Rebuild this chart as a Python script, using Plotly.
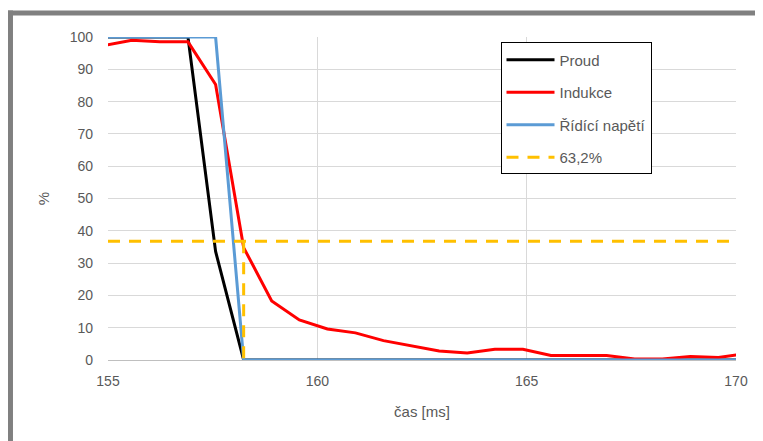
import plotly.graph_objects as go

# sample times [ms]
t = [154.91, 155.57, 156.24, 156.91, 157.57, 158.24, 158.91, 159.57, 160.24,
     160.91, 161.58, 162.24, 162.91, 163.58, 164.24, 164.91, 165.58, 166.24,
     166.91, 167.58, 168.24, 168.91, 169.58, 170.24]

proud = [100, 100, 100, 100, 33.6, 0, 0, 0, 0, 0, 0, 0, 0, 0, 0, 0, 0, 0,
         0, 0, 0, 0, 0, 0]
indukce = [97.4, 99.0, 98.5, 98.5, 85.3, 34.8, 18.3, 12.4, 9.6, 8.4, 6.0, 4.3,
           2.8, 2.2, 3.3, 3.3, 1.4, 1.4, 1.4, 0.3, 0.3, 1.1, 0.8, 2.0]
ridici = [100, 100, 100, 100, 100, 0, 0, 0, 0, 0, 0, 0, 0, 0, 0, 0, 0, 0,
          0, 0, 0, 0, 0, 0]

# 63,2 % level line (drawn at 100-63.2)
lvl_x = [155, 170, None, 158.24, 158.24]
lvl_y = [36.8, 36.8, None, 36.8, 0]

names = ["Proud", "Indukce", "Řídící napětí", "63,2%"]
colors = ["#000000", "#FF0000", "#5B9BD5", "#FFC000"]

fig = go.Figure()
fig.add_trace(go.Scatter(x=t, y=proud, mode="lines", name=names[0],
                         line=dict(color=colors[0], width=3), legendgroup="a"))
fig.add_trace(go.Scatter(x=t, y=indukce, mode="lines", name=names[1],
                         line=dict(color=colors[1], width=3), legendgroup="b"))
fig.add_trace(go.Scatter(x=t, y=ridici, mode="lines", name=names[2],
                         line=dict(color=colors[2], width=3), legendgroup="c"))
fig.add_trace(go.Scatter(x=lvl_x, y=lvl_y, mode="lines", name=names[3],
                         line=dict(color=colors[3], width=3, dash="12px,9px"),
                         legendgroup="d"))

fig.update_layout(
    width=755, height=433, autosize=False,
    margin=dict(l=100, r=27, t=29, b=81),
    paper_bgcolor="white", plot_bgcolor="white",
    font=dict(family="Liberation Sans", size=14, color="#595959"),
    showlegend=True,
    legend=dict(x=0.625, y=0.983, xanchor="left", yanchor="top",
                bgcolor="white", bordercolor="#000000", borderwidth=1,
                font=dict(size=15, color="#595959"),
                itemwidth=48,
                traceorder="grouped", tracegroupgap=10),
    xaxis=dict(range=[155, 170], tickvals=[155, 160, 165, 170],
               showgrid=True, gridcolor="#D9D9D9", gridwidth=1,
               zeroline=False, showline=False, ticks="",
               ticklabelstandoff=11,
               title=dict(text="čas [ms]", font=dict(size=15, color="#595959"),
                          standoff=18)),
    yaxis=dict(range=[0, 100], dtick=10,
               showgrid=True, gridcolor="#D9D9D9", gridwidth=1,
               zeroline=True, zerolinecolor="#BFBFBF", zerolinewidth=1,
               showline=False, ticks="", ticklabelstandoff=14,
               title=dict(text="%", font=dict(size=15, color="#595959"),
                          standoff=16)),
    shapes=[
        dict(type="rect", xref="paper", yref="paper",
             x0=-0.17, x1=1.06, y0=1.0667, y1=1.0822,
             fillcolor="#808080", line=dict(width=0), layer="above"),
        dict(type="rect", xref="paper", yref="paper",
             x0=-0.17, x1=-0.1513, y0=-0.27, y1=1.0822,
             fillcolor="#808080", line=dict(width=0), layer="above"),
    ],
)

fig.write_html("out.html")
